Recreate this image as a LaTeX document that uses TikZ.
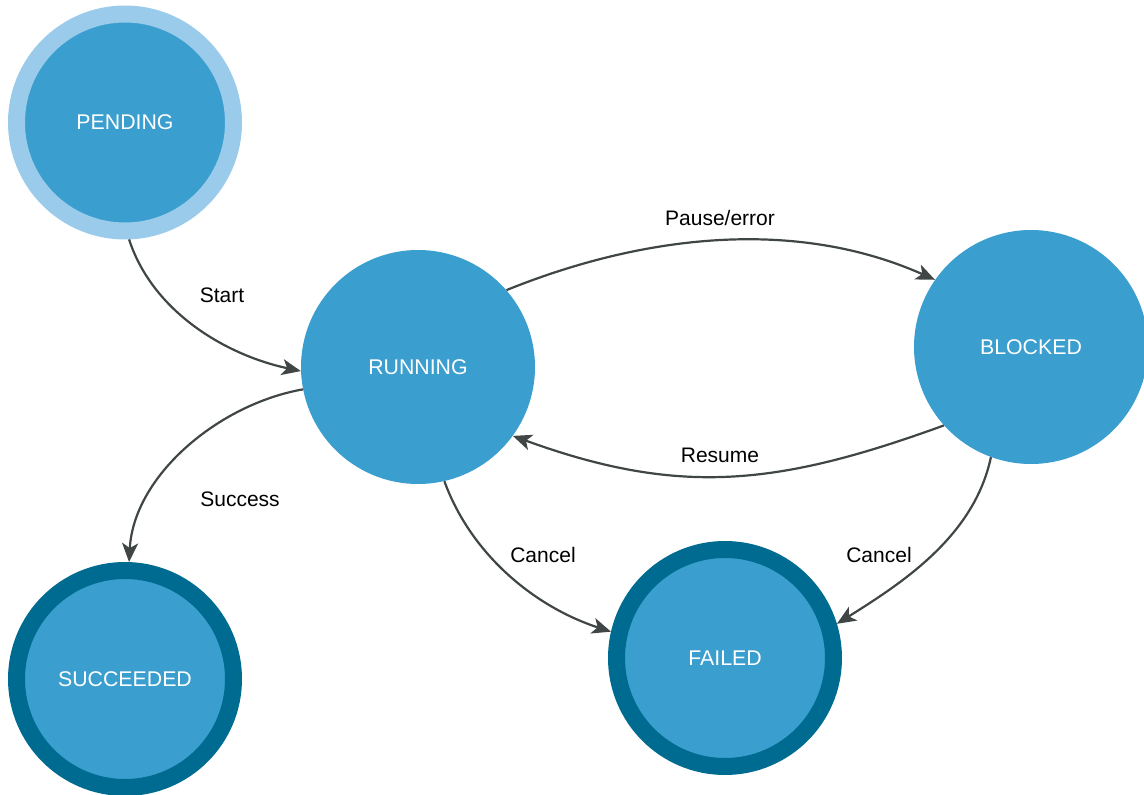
\documentclass[tikz,border=0pt]{standalone}
\usepackage{fontspec}
\setmainfont{Liberation Sans}
\usetikzlibrary{arrows.meta}
\definecolor{statefill}{HTML}{3A9ECF}
\definecolor{ringlight}{HTML}{9ACBEB}
\definecolor{ringdark}{HTML}{006B91}
\definecolor{edgecol}{HTML}{404545}
\tikzset{
  state/.style={circle, fill=statefill, draw=none, minimum size=234pt, inner sep=0pt,
    text=white, font=\fontsize{21.3}{25}\selectfont},
  startstate/.style={state, draw=ringlight, line width=17pt, minimum size=217pt},
  finalstate/.style={state, draw=ringdark, line width=17pt, minimum size=217pt},
  trans/.style={draw=edgecol, line width=2.2pt,
    -{Stealth[length=19pt, width=16pt, inset=5pt]}},
  tlabel/.style={font=\fontsize{21}{25}\selectfont, text=black, inner sep=0pt}
}
\begin{document}
\begin{tikzpicture}[x=1pt, y=-1pt]
\useasboundingbox (0,0) rectangle (1144,795);

\node[startstate] (pending) at (125,122.5) {PENDING};
\node[state] (running) at (418,367) {RUNNING};
\node[state] (blocked) at (1031,347) {BLOCKED};
\node[finalstate] (succeeded) at (125,679) {SUCCEEDED};
\node[finalstate] (failed) at (725,658) {FAILED};

\node[tlabel] (lstart) at (222,295) {Start};
\node[tlabel] (lpause) at (720,218) {Pause/error};
\node[tlabel] (lresume) at (720,455) {Resume};
\node[tlabel] (lsuccess) at (240,499) {Success};
\node[tlabel] (lcancelA) at (543,555) {Cancel};
\node[tlabel] (lcancelB) at (879,555) {Cancel};

\draw[trans] (pending.-88.5) to[out=-72, in=168, looseness=0.9] (running.182);
\draw[trans] (running.41.5) to[out=22, in=156, looseness=0.9] (blocked.145);
\draw[trans] (blocked.-138) to[out=-160, in=-20, looseness=1.05] (running.-36);
\draw[trans] (running.-169) to[out=-170, in=87, looseness=0.9] (succeeded.88.5);
\draw[trans] (running.-77) to[out=-70, in=162, looseness=0.9] (failed.167);
\draw[trans] (blocked.-110) to[out=-102, in=32, looseness=0.9] (failed.17);
\end{tikzpicture}
\end{document}
